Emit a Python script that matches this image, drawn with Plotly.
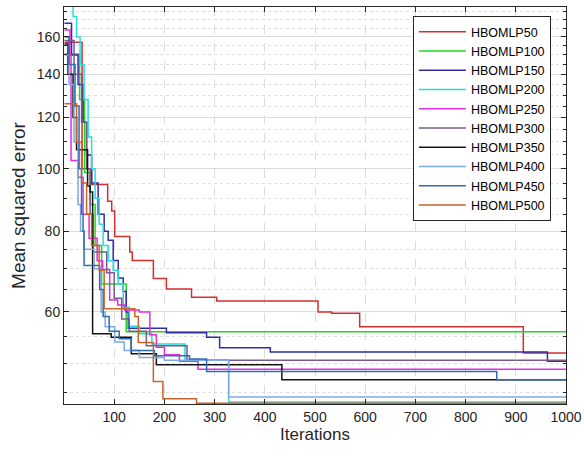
import plotly.graph_objects as go

names = ["HBOMLP50", "HBOMLP100", "HBOMLP150", "HBOMLP200", "HBOMLP250",
         "HBOMLP300", "HBOMLP350", "HBOMLP400", "HBOMLP450", "HBOMLP500"]
colors = ["#d03030", "#22d822", "#2e2ea8", "#20e0e0", "#dd30dd",
          "#7a5a8c", "#151515", "#80a8e8", "#2f6cb0", "#c8642a"]

# step breakpoints (iteration, MSE)
it50 = [1, 36, 55, 87, 95, 101, 131, 136, 178, 204, 254, 304, 506, 533, 589, 915, 1000]
mse50 = [157, 100, 94.5, 89, 86, 78.5, 74.3, 72.1, 67.6, 65.1, 63.2, 62.4, 60, 59.7, 56.9, 51.8, 51.8]

it100 = [1, 31, 41, 52, 62, 75, 124, 1000]
mse100 = [150.5, 128, 98.6, 88, 76, 66.3, 55.9, 55.9]

it150 = [1, 15, 28, 38, 45, 55, 68, 80, 88, 98, 108, 118, 124, 128, 204, 284, 310, 411, 963, 1000]
mse150 = [168, 150, 135, 118, 105, 95, 85, 80, 77.5, 72.1, 67.7, 64.5, 60, 56.6, 55.7, 54.8, 52.8, 52.0, 50.3, 50.3]

it200 = [1, 18, 25, 32, 40, 48, 55, 62, 70, 78, 88, 98, 108, 118, 130, 150, 175, 241, 328, 1000]
mse200 = [180, 172, 160, 145, 128, 112, 100, 90, 82, 76, 72, 69.6, 66.3, 61, 57, 55.5, 53.5, 50.5, 43.5, 43.5]

it250 = [1, 12, 14, 28, 38, 50, 66, 77, 91, 107, 121, 150, 171, 184, 200, 230, 267, 1000]
mse250 = [164, 150, 103, 97, 85, 78, 72, 69.8, 62.6, 61.5, 60.4, 60, 55.3, 52.9, 51.5, 50.3, 48.9, 48.9]

it300 = [1, 20, 35, 45, 52, 58, 85, 100, 115, 130, 164, 245, 1000]
mse300 = [158, 140, 118, 100, 85, 74.3, 69, 63, 58.5, 56, 53.2, 50.5, 50.5]

it350 = [1, 8, 18, 25, 47, 52, 57, 94, 134, 184, 434, 1000]
mse350 = [156, 140, 120, 107, 94, 92, 55.5, 54.8, 51.7, 49.7, 47.1, 47.1]

it400 = [1, 10, 20, 28, 33, 40, 60, 74, 82, 101, 120, 150, 200, 328, 1000]
mse400 = [150, 135, 110, 88, 80, 75, 70, 60, 56.9, 53.9, 52.3, 51, 50.5, 44.3, 44.3]

it450 = [1, 10, 22, 30, 35, 38, 40, 71, 78, 90, 110, 134, 180, 250, 284, 862, 1000]
mse450 = [160, 145, 125, 100, 85, 80, 70.8, 65, 59, 56, 54.5, 52.3, 51.3, 50.7, 48.5, 47.1, 47.1]

it500 = [1, 25, 35, 45, 55, 70, 80, 141, 148, 178, 197, 264, 1000]
mse500 = [126, 110, 95, 85, 76, 69.6, 60.7, 59.0, 53.8, 46.8, 44.0, 43.3, 43.3]

xs = [it50, it100, it150, it200, it250, it300, it350, it400, it450, it500]
ys = [mse50, mse100, mse150, mse200, mse250, mse300, mse350, mse400, mse450, mse500]

xticks = [100, 200, 300, 400, 500, 600, 700, 800, 900, 1000]
yticks = [60, 80, 100, 120, 140, 160]
yminor = [v for v in range(45, 180, 5) if v not in yticks]

fig = go.Figure()
for n, c, x, y in zip(names, colors, xs, ys):
    fig.add_trace(go.Scatter(x=x, y=y, name=n, mode="lines",
                             line=dict(color=c, width=1.5, shape="hv")))

font = "Liberation Sans, Arial, sans-serif"
fig.update_layout(
    width=584, height=459,
    margin=dict(l=64, r=18, t=7, b=55),
    paper_bgcolor="white", plot_bgcolor="white",
    font=dict(family=font, size=14, color="#262626"),
    showlegend=True,
    legend=dict(x=0.695, y=0.977, xanchor="left", yanchor="top",
                bgcolor="white", bordercolor="#262626", borderwidth=1,
                font=dict(size=12.5, color="#000000"),
                tracegroupgap=0, itemwidth=47),
    xaxis=dict(range=[0, 1000], tickvals=xticks, ticktext=[str(v) for v in xticks],
               automargin=False,
               showline=True, linecolor="#262626", linewidth=1, mirror="ticks",
               ticks="inside", ticklen=5, tickcolor="#262626",
               showgrid=True, gridcolor="#dcdcdc", griddash="dash", gridwidth=1,
               zeroline=False,
               title=dict(text="Iterations", font=dict(size=17), standoff=4)),
    yaxis=dict(type="log", range=[1.6355, 2.2504], tickvals=yticks,
               ticktext=[str(v) for v in yticks],
               automargin=False,
               showline=True, linecolor="#262626", linewidth=1, mirror="ticks",
               ticks="inside", ticklen=5, tickcolor="#262626",
               showgrid=True, gridcolor="#dcdcdc", gridwidth=1,
               zeroline=False,
               minor=dict(tickmode="array", tickvals=yminor, ticks="inside",
                          ticklen=3, tickcolor="#262626", showgrid=True,
                          gridcolor="#dedede", griddash="dot", gridwidth=1),
               title=dict(text="Mean squared error", font=dict(size=19), standoff=6)),
)

fig.write_html("out.html")
